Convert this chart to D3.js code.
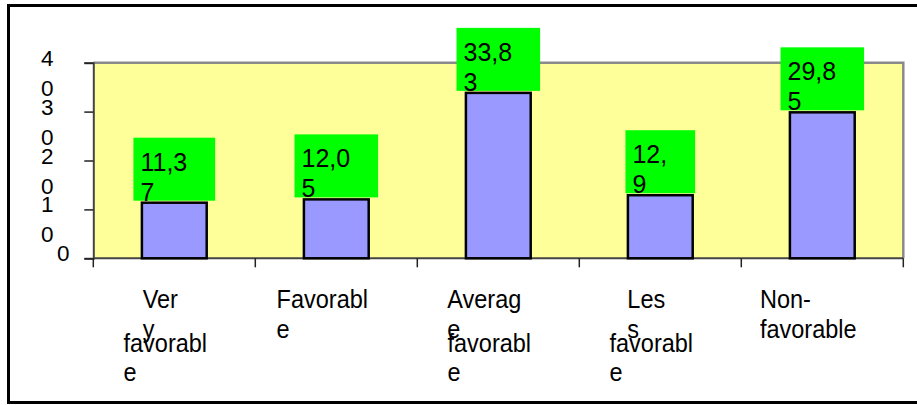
<!DOCTYPE html>
<html>
<head>
<meta charset="utf-8">
<script src="https://cdn.jsdelivr.net/npm/d3@7"></script>
<style>
  html, body { margin: 0; padding: 0; background: #ffffff; }
  svg { display: block; font-family: "Liberation Sans", Arial, sans-serif; }
</style>
</head>
<body>
<svg id="chart" width="917" height="405"></svg>
<script>
// Survey assessment distribution, %
const categories = ["Very favorable", "Favorable", "Average favorable", "Less favorable", "Non-favorable"];
const values = [11.37, 12.05, 33.83, 12.9, 29.85];
const yTicks = [0, 10, 20, 30, 40];

const svg = d3.select("#chart");
const plot = { left: 93.3, right: 903.3, top: 62.7, bottom: 258.3 };

const x = d3.scaleBand().domain(categories).range([plot.left, plot.right]).padding(0);
const y = d3.scaleLinear().domain([0, 40]).range([plot.bottom, plot.top]);

// narrow label boxes push the last character onto its own line
const breakLast = s => s.length > 1 ? [s.slice(0, -1), s.slice(-1)] : [s];
const fmt = v => String(v).replace(".", ",");

// helper to measure text width
const measurer = svg.append("text").attr("visibility", "hidden");
function textWidth(str, size) {
  measurer.attr("font-size", size).text(str);
  return measurer.node().getComputedTextLength();
}

// outer frame
svg.append("rect")
  .attr("x", 8.5).attr("y", 5.5)
  .attr("width", 914).attr("height", 397)
  .attr("fill", "none").attr("stroke", "#000").attr("stroke-width", 3);

// plot area
svg.append("rect")
  .attr("x", plot.left).attr("y", plot.top)
  .attr("width", plot.right - plot.left).attr("height", plot.bottom - plot.top)
  .attr("fill", "#FFFF99");
svg.append("path")
  .attr("d", `M${plot.left},${plot.top}H${plot.right}V${plot.bottom}`)
  .attr("fill", "none").attr("stroke", "#8a8a8a").attr("stroke-width", 2.5);

// y axis
const yAxis = d3.axisLeft(y).tickValues(yTicks).tickSize(9).tickFormat("");
const gy = svg.append("g").attr("transform", `translate(${plot.left},0)`).call(yAxis);
gy.select(".domain").attr("stroke", "#444").attr("stroke-width", 2);
gy.selectAll(".tick line").attr("stroke", "#222").attr("stroke-width", 1.5);

yTicks.forEach(t => {
  const lines = breakLast(String(t));
  const cx = lines.length > 1 ? plot.left - 46 : plot.left - 30;
  const txt = svg.append("text")
    .attr("font-size", 22.5).attr("fill", "#000").attr("text-anchor", "middle");
  lines.forEach((ln, i) => {
    txt.append("tspan").attr("x", cx).attr("y", y(t) + 3 + i * 30).text(ln);
  });
});

// x axis with ticks on category boundaries
const gx = svg.append("g").attr("transform", `translate(0,${plot.bottom})`);
gx.append("line")
  .attr("x1", plot.left).attr("x2", plot.right)
  .attr("stroke", "#444").attr("stroke-width", 2);
const bounds = categories.map(c => x(c)).concat([plot.right]);
gx.selectAll("line.tk").data(bounds).join("line").attr("class", "tk")
  .attr("x1", d => d).attr("x2", d => d)
  .attr("y1", 0).attr("y2", 9)
  .attr("stroke", "#222").attr("stroke-width", 1.5);

// bars
const barW = x.bandwidth() * 0.4;
svg.selectAll("rect.bar").data(values).join("rect").attr("class", "bar")
  .attr("x", (d, i) => x(categories[i]) + x.bandwidth() / 2 - barW / 2)
  .attr("y", d => y(d))
  .attr("width", barW)
  .attr("height", d => plot.bottom - y(d))
  .attr("fill", "#9999FF").attr("stroke", "#000").attr("stroke-width", 2.5);

// value labels on green boxes
const labelSize = 25;
values.forEach((v, i) => {
  const s = fmt(v);
  const cx = x(categories[i]) + x.bandwidth() / 2;
  const bw = textWidth(s, labelSize) + 21;
  const bh = 63;
  const top = y(v) - 2 - bh;
  const left = cx - bw / 2;
  svg.append("rect")
    .attr("x", left).attr("y", top).attr("width", bw).attr("height", bh)
    .attr("fill", "#00FF00");
  const txt = svg.append("text").attr("font-size", labelSize).attr("fill", "#000");
  breakLast(s).forEach((ln, j) => {
    txt.append("tspan").attr("x", left + 7).attr("y", top + 33 + j * 30).text(ln);
  });
});

// category labels: each word wraps in its own block
const catSize = 23.5;
const catStretch = 1.09;
categories.forEach(c => {
  const cx = x(c) + x.bandwidth() / 2;
  const words = c.split(" ");
  const blocks = words.map(w => w.includes("-") ? w.split(/(?<=-)/) : breakLast(w));
  blocks.forEach((lines, b) => {
    const wMax = d3.max(lines, ln => textWidth(ln, catSize));
    const left = cx - (b === 0 ? 14 : 9) - wMax / 2;
    const base = b === 0 ? 308 : 352;
    const step = b === 0 ? 30 : 28.5;
    lines.forEach((ln, j) => {
      svg.append("text")
        .attr("font-size", catSize).attr("fill", "#000")
        .attr("transform", `translate(${left},${base + j * step}) scale(1,${catStretch})`)
        .text(ln);
    });
  });
});

measurer.remove();
</script>
</body>
</html>
